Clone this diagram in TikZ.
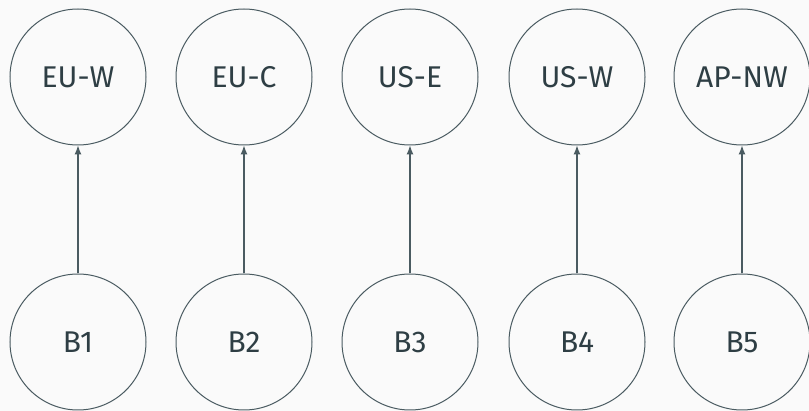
\documentclass[tikz,border=0pt]{standalone}
\usepackage{fontspec}
\setmainfont{Fira Sans}
\usetikzlibrary{arrows.meta}
\definecolor{bgcol}{HTML}{FAFAFA}
\definecolor{edgecol}{HTML}{4A5B61}
\definecolor{txtcol}{HTML}{2E3E44}
\begin{document}
\begin{tikzpicture}[x=1pt,y=-1pt,
  region/.style={circle,draw=edgecol,line width=1pt,minimum size=136pt,inner sep=0pt,
    text=txtcol,font=\fontsize{30}{35}\selectfont},
  link/.style={draw=edgecol,line width=1.1pt,-{Latex[length=9pt,width=7pt]}}]
  \fill[bgcol] (0,0) rectangle (809,411);
  \useasboundingbox (0,0) rectangle (809,411);
  \foreach \i/\x/\top in {1/78/EU-W,2/244/EU-C,3/410/US-E,4/577/US-W,5/742/AP-NW}{
    \node[region] (t\i) at (\x,77) {\top};
    \node[region] (b\i) at (\x,342) {B\i};
    \draw[link] (b\i) -- (t\i);
  }
\end{tikzpicture}
\end{document}
